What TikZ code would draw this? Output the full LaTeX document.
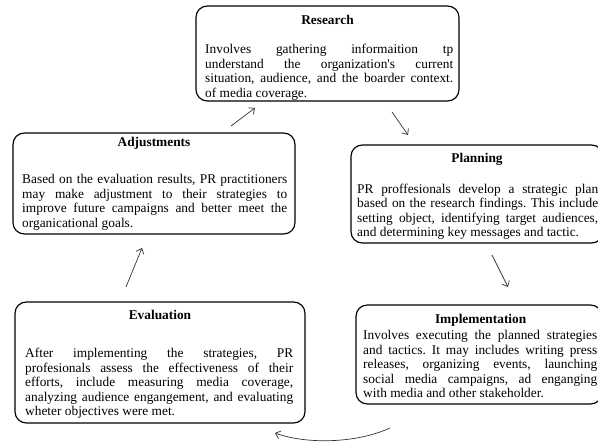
\documentclass[tikz,border=0pt]{standalone}
\usepackage{fontspec}
\setmainfont{Liberation Serif}[Ligatures=TeXOff]
\usepackage{tikz}
\usetikzlibrary{arrows.meta, positioning}

\frenchspacing
\hyphenpenalty=10000
\tolerance=10000
\hbadness=10000

\begin{document}
\begin{tikzpicture}[
  font=\fontsize{11.4}{12.3}\selectfont,
  >={Straight Barb[length=4pt, width=7pt]},
  stagebox/.style={draw, line width=1pt, rounded corners=0.34cm},
  stagetitle/.style={font=\fontsize{11.4}{12.3}\selectfont\bfseries, anchor=base, inner sep=0pt},
  stagetext/.style={text width=#1, align=justify, anchor=base west, inner sep=0pt},
  cycle/.style={->, black!80, line width=0.6pt}
]

\useasboundingbox (0,0) rectangle (17.94,13.26);

% Research
\node[stagebox, minimum width=7.89cm, minimum height=2.85cm] (research) at (9.825, 11.655) {};
\node[stagetitle] (researchTitle) at (9.825, 12.51) {Research};
\node[stagetext=7.44cm] (researchText) at (6.15, 11.64)
  {Involves gathering informaition tp\linebreak
   understand the organization's current\linebreak
   situation, audience, and the boarder context.\linebreak
   of media coverage.};

% Planning
\node[stagebox, minimum width=7.56cm, minimum height=2.94cm] (planning) at (14.31, 7.44) {};
\node[stagetitle] (planningTitle) at (14.31, 8.37) {Planning};
\node[stagetext=7.23cm] (planningText) at (10.71, 7.455)
  {PR proffesionals develop a strategic plan\linebreak
   based on the research findings. This include\linebreak
   setting object, identifying target audiences,\linebreak
   and determining key messages and tactic.};

% Implementation
\node[stagebox, minimum width=7.38cm, minimum height=2.97cm] (implementation) at (14.37, 2.625) {};
\node[stagetitle] (implementationTitle) at (14.42, 3.54) {Implementation};
\node[stagetext=7.02cm] (implementationText) at (10.89, 3.06)
  {Involves executing the planned strategies\linebreak
   and tactics. It may includes writing press\linebreak
   releases, organizing events, launching\linebreak
   social media campaigns, ad enganging\linebreak
   with media and other stakeholder.};

% Evaluation
\node[stagebox, minimum width=8.7cm, minimum height=3.63cm] (evaluation) at (4.8, 2.385) {};
\node[stagetitle] (evaluationTitle) at (4.8, 3.66) {Evaluation};
\node[stagetext=8.04cm] (evaluationText) at (0.75, 2.52)
  {After implementing the strategies, PR\linebreak
   profesionals assess the effectiveness of their\linebreak
   efforts, include measuring media coverage,\linebreak
   analyzing audience engangement, and evaluating\linebreak
   wheter objectives were met.};

% Adjustments
\node[stagebox, minimum width=8.46cm, minimum height=3.03cm] (adjustments) at (4.62, 7.755) {};
\node[stagetitle] (adjustmentsTitle) at (4.62, 8.85) {Adjustments};
\node[stagetext=7.95cm] (adjustmentsText) at (0.66, 7.74)
  {Based on the evaluation results, PR practitioners\linebreak
   may make adjustment to their strategies to\linebreak
   improve future campaigns and better meet the\linebreak
   organicational goals.};

% Arrow end points between the stages
\coordinate (adjOut) at (6.93, 9.48);
\coordinate (resIn) at (7.65, 10.02);
\coordinate (resOut) at (11.76, 9.9);
\coordinate (planIn) at (12.24, 9.21);
\coordinate (planOut) at (14.76, 5.61);
\coordinate (implIn) at (15.24, 4.65);
\coordinate (implOut) at (11.7, 0.42);
\coordinate (evalIn) at (8.25, 0.27);
\coordinate (evalOut) at (3.78, 4.65);
\coordinate (adjIn) at (4.26, 5.82);

% Cycle arrows
\draw[cycle] (adjOut) -- (resIn);
\draw[cycle] (resOut) -- (planIn);
\draw[cycle] (planOut) -- (implIn);
\draw[cycle] (implOut) .. controls (10.65, -0.06) and (9.15, -0.06) .. (evalIn);
\draw[cycle] (evalOut) -- (adjIn);

\end{tikzpicture}
\end{document}
